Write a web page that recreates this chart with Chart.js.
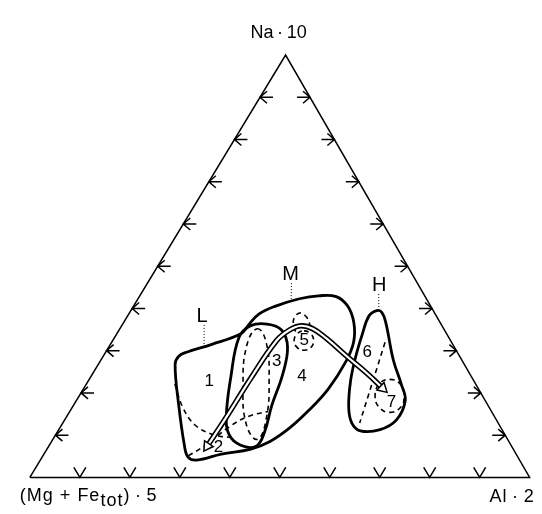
<!DOCTYPE html>
<html>
<head>
<meta charset="utf-8">
<script src="https://cdn.jsdelivr.net/npm/chart.js@4.4.1/dist/chart.umd.min.js"></script>
<style>
  html, body { margin: 0; padding: 0; background: #fff; }
  canvas { display: block; }
</style>
</head>
<body>
<canvas id="ternary" width="542" height="514"></canvas>
<script>
// all points are [Al, Na] in percent, (Mg+Fe) is the rest
const ticks = [10, 20, 30, 40, 50, 60, 70, 80, 90];

const outline14 = [[15.4, 26.7], [15.1, 28.7], [16.3, 29.7], [20.3, 31.5], [24.8, 34.0], [25.3, 36.1], [26.0, 38.6],
  [28.3, 40.5], [32.3, 42.3], [35.8, 43.0], [39.4, 42.8], [42.9, 40.5], [46.1, 36.6], [48.4, 32.0], [49.2, 27.4],
  [49.0, 20.9], [47.7, 15.9], [46.0, 11.7], [43.7, 8.5], [40.8, 6.7], [35.5, 5.5], [31.3, 4.1], [29.2, 4.8],
  [26.9, 7.8], [21.1, 17.0]];
const outline3 = [[24.9, 33.1], [25.8, 35.9], [28.9, 36.3], [32.5, 34.9], [35.8, 30.8], [38.1, 24.4], [39.7, 17.0],
  [41.5, 10.6], [41.5, 7.4], [38.3, 7.6], [34.7, 10.1], [31.8, 14.7], [28.0, 23.9]];
const outline6 = [[49.2, 39.5], [48.3, 38.2], [49.2, 33.8], [50.6, 28.5], [52.5, 22.8], [55.3, 16.6], [57.8, 12.9],
  [60.5, 11.0], [64.3, 11.3], [66.4, 13.6], [65.8, 18.2], [63.0, 22.1], [58.5, 27.8], [52.5, 36.6], [50.4, 39.1]];

const core3 = [[27.5, 35.2], [30.9, 32.0], [36.0, 23.2], [40.3, 13.6], [40.9, 9.0], [37.0, 12.4], [31.6, 21.6], [27.4, 31.3]];
const arc1 = [[17.7, 22.1], [22.1, 16.6], [26.7, 12.4], [31.6, 10.1], [35.8, 9.4]];
const edge2 = [[29.1, 5.1], [31.4, 7.8], [33.8, 12.0], [36.4, 14.5], [39.7, 15.6]];
const circle5 = [[37.1, 34.7], [38.8, 34.0], [40.2, 32.4], [40.5, 30.8], [39.5, 30.1], [37.7, 30.8], [36.3, 32.4], [36.1, 34.0]];
const lobe5 = [[35.5, 34.5], [33.7, 37.2], [34.0, 38.9], [36.0, 37.9], [38.1, 35.4]];
const circle7 = [[60.1, 23.2], [62.8, 22.1], [65.0, 19.3], [65.7, 16.6], [64.1, 15.4], [61.4, 16.6], [59.2, 19.3], [58.6, 22.1]];
const split6 = [[54.7, 32.0], [59.4, 12.9]];

const trend = [[31.7, 7.4], [32.0, 13.6], [32.2, 23.4], [32.8, 32.4], [34.1, 34.9], [35.9, 35.9], [38.6, 35.2],
  [42.5, 32.9], [49.0, 28.5], [54.9, 24.6], [59.8, 21.1]];

const fieldNames = ['1', '2', '3', '4', '5', '6', '7'];
const fieldSpots = [[24.2, 22.8], [34.1, 7.1], [35.4, 27.4], [42.2, 23.9], [38.3, 32.4], [52.3, 29.7], [63.3, 17.7]];
const groupNames = ['L', 'M', 'H'];
const groupSpots = [[14.9, 38.2], [27.6, 48.0], [46.6, 45.5]];
const groupLeaders = [[[16.4, 36.1], [19.1, 30.8]], [[28.8, 46.0], [30.9, 41.8]], [[47.6, 43.4], [49.6, 39.5]]];

// where the triangle corners sit on the canvas
const corner = { mg: [23, 484], al: [537, 484], na: [286, 49] };

function toXY(p) {
  const al = p[0] / 100, na = p[1] / 100, mg = 1 - al - na;
  return {
    x: mg * corner.mg[0] + al * corner.al[0] + na * corner.na[0],
    y: mg * corner.mg[1] + al * corner.al[1] + na * corner.na[1]
  };
}

// closed smooth loop: wrap one point each side and hide the two extra segments
function loop(pts) {
  const n = pts.length;
  return [pts[n - 1], ...pts, pts[0], pts[1]].map(toXY);
}
const hideEnds = {
  borderColor: c => (c.p0DataIndex === 0 || c.p1DataIndex === c.chart.data.datasets[c.datasetIndex].data.length - 1) ? 'rgba(0,0,0,0)' : undefined
};

function solidLoop(pts) {
  return { data: loop(pts), borderColor: '#000', borderWidth: 2.8, tension: 0.4, segment: hideEnds, order: 8 };
}
function dashLoop(pts) {
  return { data: loop(pts), borderColor: '#000', borderWidth: 1.6, borderDash: [5, 4], tension: 0.45, segment: hideEnds, order: 7 };
}
function dashLine(pts) {
  return { data: pts.map(toXY), borderColor: '#000', borderWidth: 1.6, borderDash: [5, 4], tension: 0.4, order: 7 };
}

const datasets = [
  { data: [[0, 0], [100, 0], [0, 100], [0, 0]].map(toXY), borderColor: '#000', borderWidth: 1.5, tension: 0, order: 10 },
  solidLoop(outline14),
  solidLoop(outline3),
  solidLoop(outline6),
  dashLoop(core3),
  dashLoop(circle5),
  dashLoop(circle7),
  dashLine(arc1),
  dashLine(edge2),
  dashLine(lobe5),
  dashLine(split6),
  { data: trend.map(toXY), borderColor: '#000', borderWidth: 5.5, tension: 0.4, order: 3 },
  { data: trend.map(toXY), borderColor: '#fff', borderWidth: 2.2, tension: 0.4, order: 2 },
  {
    data: [trend[0], trend[trend.length - 1]].map(toXY), showLine: false, order: 1,
    pointStyle: 'triangle', pointRadius: 6, rotation: [214, 133],
    pointBackgroundColor: '#fff', pointBorderColor: '#000', pointBorderWidth: 1.5
  }
];
groupLeaders.forEach(seg => {
  datasets.push({ data: seg.map(toXY), borderColor: '#000', borderWidth: 1, borderDash: [1, 2], order: 9 });
});

const extras = {
  id: 'extras',
  afterDatasetsDraw(chart) {
    const { ctx, scales: { x, y } } = chart;
    const px = p => { const q = toXY(p); return [x.getPixelForValue(q.x), y.getPixelForValue(q.y)]; };
    ctx.save();
    ctx.strokeStyle = '#000';
    ctx.lineWidth = 1.5;
    ticks.forEach(t => {
      let [ex, ey] = px([0, t]);
      ctx.beginPath();
      ctx.moveTo(ex, ey); ctx.lineTo(ex + 13, ey);
      ctx.moveTo(ex + 7, ey - 6); ctx.lineTo(ex, ey); ctx.lineTo(ex + 7, ey + 6);
      ctx.stroke();
      [ex, ey] = px([100 - t, t]);
      ctx.beginPath();
      ctx.moveTo(ex, ey); ctx.lineTo(ex - 13, ey);
      ctx.moveTo(ex - 7, ey - 6); ctx.lineTo(ex, ey); ctx.lineTo(ex - 7, ey + 6);
      ctx.stroke();
      [ex, ey] = px([t, 0]);
      ctx.beginPath();
      ctx.moveTo(ex - 6, ey - 10); ctx.lineTo(ex, ey); ctx.lineTo(ex + 6, ey - 10);
      ctx.stroke();
    });

    ctx.fillStyle = '#000';
    ctx.textAlign = 'center';
    ctx.textBaseline = 'middle';
    ctx.font = '17px "Liberation Sans", Arial, sans-serif';
    fieldNames.forEach((s, i) => { const [tx, ty] = px(fieldSpots[i]); ctx.fillText(s, tx, ty); });
    ctx.font = '20px "Liberation Sans", Arial, sans-serif';
    groupNames.forEach((s, i) => { const [tx, ty] = px(groupSpots[i]); ctx.fillText(s, tx, ty); });

    // corner labels
    ctx.font = '18px "Liberation Sans", Arial, sans-serif';
    ctx.textBaseline = 'alphabetic';
    let [cx, cy] = px([0, 100]);
    ctx.fillText('Na\u2009·\u200910', cx - 7, cy - 17);
    ctx.letterSpacing = '1px';
    [cx, cy] = px([100, 0]);
    ctx.textAlign = 'right';
    ctx.fillText('Al\u2009·\u20092', cx + 5, cy + 25);
    [cx, cy] = px([0, 0]);
    ctx.textAlign = 'left';
    let lx = cx - 10;
    const base = cy + 24;
    ctx.fillText('(Mg + Fe', lx, base);
    lx += ctx.measureText('(Mg + Fe').width;
    ctx.fillText('tot', lx, base + 5);
    lx += ctx.measureText('tot').width;
    ctx.fillText(')\u2009·\u20095', lx, base);
    ctx.restore();
  }
};

new Chart(document.getElementById('ternary').getContext('2d'), {
  type: 'scatter',
  data: { datasets },
  options: {
    responsive: false,
    animation: false,
    layout: { padding: 0 },
    showLine: true,
    elements: { point: { radius: 0 } },
    scales: {
      x: { type: 'linear', min: 0, max: 542, display: false },
      y: { type: 'linear', min: 0, max: 514, reverse: true, display: false }
    },
    plugins: { legend: { display: false }, tooltip: { enabled: false } }
  },
  plugins: [extras]
});
</script>
</body>
</html>
